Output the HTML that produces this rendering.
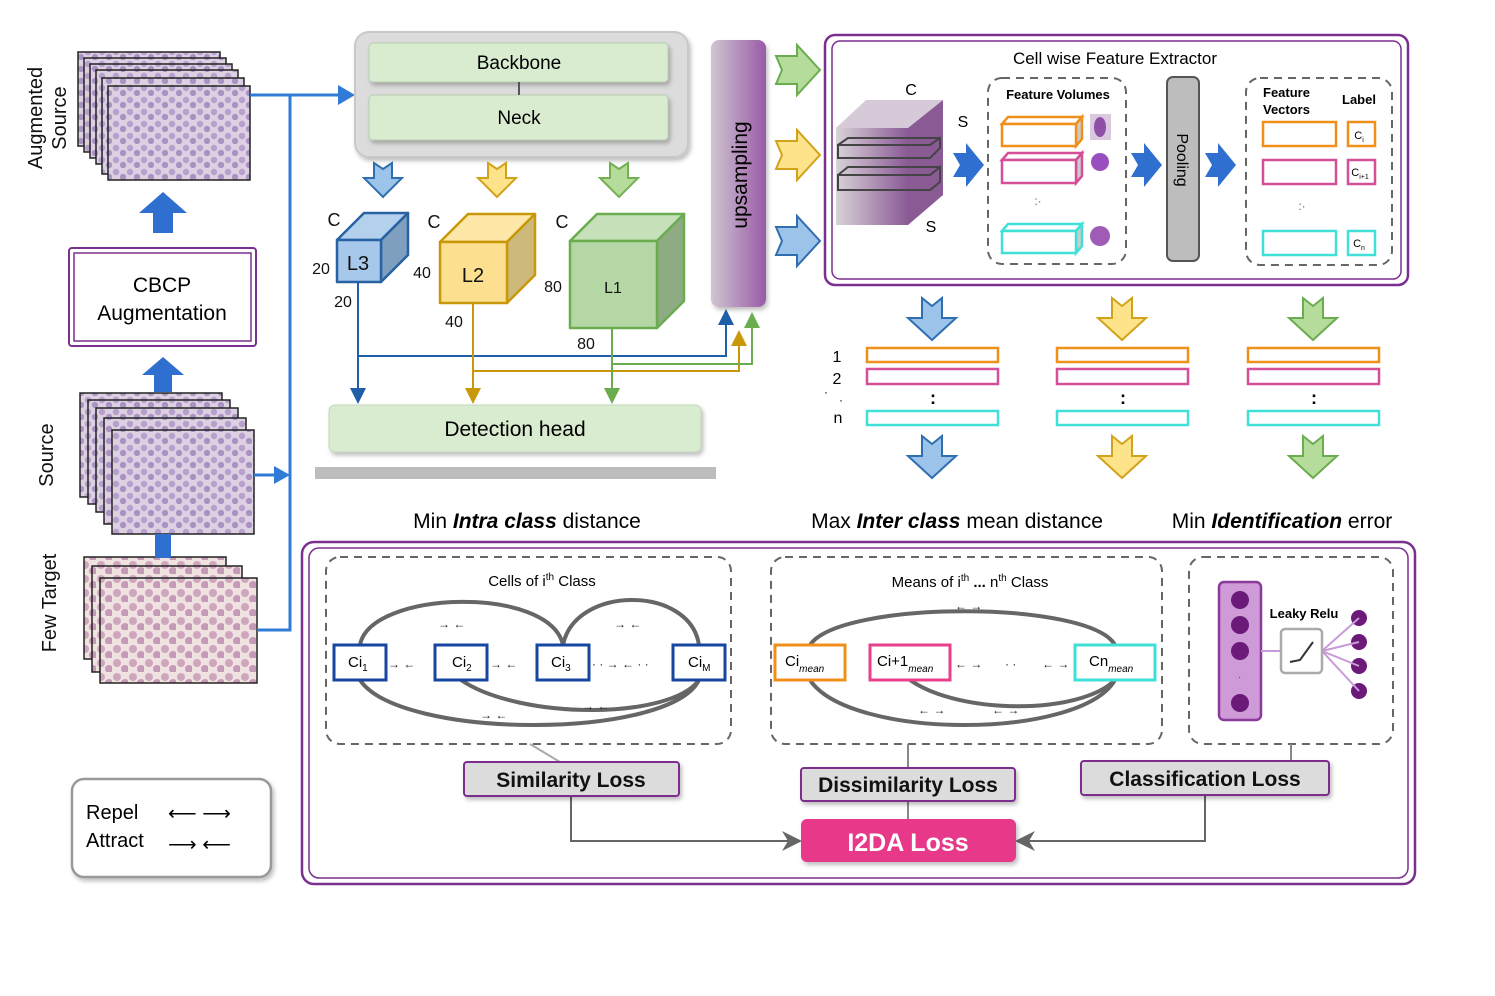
<!DOCTYPE html>
<html><head><meta charset="utf-8"><style>
html,body{margin:0;padding:0;background:#fff;}
svg{display:block;font-family:"Liberation Sans",sans-serif;}
</style></head><body>
<svg width="1495" height="996" viewBox="0 0 1495 996" xmlns="http://www.w3.org/2000/svg">
<defs>
<pattern id="cells" width="14" height="12" patternUnits="userSpaceOnUse">
<rect width="14" height="12" fill="#ddd0e3"/>
<circle cx="4" cy="4" r="3.2" fill="#b7a0cc"/><circle cx="11" cy="9" r="3.2" fill="#a993c2"/>
</pattern>
<pattern id="cells2" width="16" height="14" patternUnits="userSpaceOnUse">
<rect width="16" height="14" fill="#efe2e0"/>
<circle cx="5" cy="5" r="4" fill="#cfa6bd"/><circle cx="13" cy="11" r="4" fill="#c59ab6"/>
</pattern>
<linearGradient id="up" x1="0" x2="1"><stop offset="0" stop-color="#cfc6cf"/><stop offset="1" stop-color="#9a5aa8"/></linearGradient>
<linearGradient id="cube" x1="0" x2="1"><stop offset="0" stop-color="#d8d2d8"/><stop offset="1" stop-color="#8a5a95"/></linearGradient>
<marker id="ab" markerWidth="8" markerHeight="8" refX="6" refY="4" orient="auto"><path d="M0,0 L8,4 L0,8z" fill="#1f5fa8"/></marker>
<marker id="ay" markerWidth="8" markerHeight="8" refX="6" refY="4" orient="auto"><path d="M0,0 L8,4 L0,8z" fill="#c9980a"/></marker>
<marker id="ag" markerWidth="8" markerHeight="8" refX="6" refY="4" orient="auto"><path d="M0,0 L8,4 L0,8z" fill="#6aad4f"/></marker>
<marker id="agr" markerWidth="10" markerHeight="10" refX="8" refY="5" orient="auto"><path d="M0,0 L10,5 L0,10 L3,5z" fill="#666"/></marker>
<marker id="abl" markerWidth="5" markerHeight="5" refX="4" refY="2.5" orient="auto"><path d="M0,0 L5,2.5 L0,5z" fill="#2f7bd6"/></marker>
<filter id="sh" x="-10%" y="-10%" width="130%" height="140%"><feDropShadow dx="2" dy="3" stdDeviation="2" flood-color="#000" flood-opacity="0.25"/></filter>
</defs>

<!-- left image stacks -->
<g stroke="#222" stroke-width="1.5">
<rect x="78" y="52" width="142" height="94" fill="url(#cells)"/>
<rect x="84" y="58" width="142" height="94" fill="url(#cells)"/>
<rect x="90" y="64" width="142" height="94" fill="url(#cells)"/>
<rect x="96" y="70" width="142" height="94" fill="url(#cells)"/>
<rect x="102" y="78" width="142" height="96" fill="url(#cells)"/>
<rect x="108" y="86" width="142" height="94" fill="url(#cells)"/>
<rect x="80" y="393" width="142" height="104" fill="url(#cells)"/>
<rect x="88" y="400" width="142" height="104" fill="url(#cells)"/>
<rect x="96" y="408" width="142" height="104" fill="url(#cells)"/>
<rect x="104" y="418" width="142" height="106" fill="url(#cells)"/>
<rect x="112" y="430" width="142" height="104" fill="url(#cells)"/>
<rect x="84" y="557" width="142" height="102" fill="url(#cells2)"/>
<rect x="92" y="566" width="150" height="106" fill="url(#cells2)"/>
<rect x="100" y="578" width="157" height="105" fill="url(#cells2)"/>
</g>
<g font-size="20" fill="#111" text-anchor="middle">
<text transform="translate(42,118) rotate(-90)">Augmented</text>
<text transform="translate(66,118) rotate(-90)">Source</text>
<text transform="translate(53,455) rotate(-90)">Source</text>
<text transform="translate(56,603) rotate(-90)">Few Target</text>
</g>
<!-- up arrows -->
<path d="M163,192 L187,213 L173,213 L173,233 L153,233 L153,213 L139,213z" fill="#2f6fd0"/>
<path d="M163,357 L184,375 L172,375 L172,392 L154,392 L154,375 L142,375z" fill="#2f6fd0"/>
<rect x="155" y="534" width="16" height="24" fill="#2f6fd0"/>
<!-- CBCP -->
<rect x="69" y="248" width="187" height="98" rx="3" fill="#fff" stroke="#7b2f8f" stroke-width="2"/>
<rect x="74" y="253" width="177" height="88" fill="none" stroke="#7b2f8f" stroke-width="1.5"/>
<text x="162" y="292" font-size="21" text-anchor="middle">CBCP</text>
<text x="162" y="320" font-size="21" text-anchor="middle">Augmentation</text>
<!-- blue connectors -->
<g stroke="#2f7bd6" stroke-width="3" fill="none">
<path d="M250,95 L340,95"/>
<path d="M290,95 L290,630 L257,630"/>
<path d="M254,475 L276,475"/>
</g>
<path d="M338,85 L355,95 L338,105z" fill="#2f7bd6"/>
<path d="M274,466 L290,475 L274,484z" fill="#2f7bd6"/>

<!-- backbone -->
<rect x="355" y="32" width="333" height="125" rx="14" fill="#dcdcdc" stroke="#c8c8c8" stroke-width="2" filter="url(#sh)"/>
<rect x="369" y="43" width="299" height="39" rx="4" fill="#d9ecd0" stroke="#b9cfb0" filter="url(#sh)"/>
<rect x="369" y="95" width="299" height="45" rx="4" fill="#d9ecd0" stroke="#b9cfb0" filter="url(#sh)"/>
<text x="519" y="69" font-size="19" text-anchor="middle">Backbone</text>
<text x="519" y="124" font-size="19" text-anchor="middle">Neck</text>
<line x1="519" y1="82" x2="519" y2="95" stroke="#555" stroke-width="2"/>
<!-- down chevron arrows -->
<g stroke-width="2" stroke-linejoin="miter">
<path d="M374,163 L383,169 L392,163 L392,178 L402,178 L383,197 L364,178 L374,178z" fill="#9cc3ea" stroke="#2f6fb0"/>
<path d="M488,163 L497,169 L506,163 L506,178 L516,178 L497,197 L478,178 L488,178z" fill="#fde38a" stroke="#d2a21a"/>
<path d="M610,163 L619,169 L628,163 L628,178 L638,178 L619,197 L600,178 L610,178z" fill="#b6dc9c" stroke="#74b052"/>
</g>
<!-- cubes -->
<g stroke-width="2.5" stroke-linejoin="round">
<path d="M337,240 L364,213 L408,213 L381,240z" fill="#b3d0ec" stroke="#2862a3"/>
<path d="M381,240 L408,213 L408,255 L381,282z" fill="#7e9fbe" stroke="#2862a3"/>
<rect x="337" y="240" width="44" height="42" fill="#a7c8ea" stroke="#2862a3"/>
<path d="M440,242 L468,214 L535,214 L507,242z" fill="#fde7a6" stroke="#c9980a"/>
<path d="M507,242 L535,214 L535,275 L507,303z" fill="#cdb97a" stroke="#c9980a"/>
<rect x="440" y="242" width="67" height="61" fill="#fde08f" stroke="#c9980a"/>
<path d="M570,241 L597,214 L684,214 L657,241z" fill="#c6e0ba" stroke="#6aad4f"/>
<path d="M657,241 L684,214 L684,301 L657,328z" fill="#8fab83" stroke="#6aad4f"/>
<rect x="570" y="241" width="87" height="87" fill="#b5d7a6" stroke="#6aad4f"/>
</g>
<g font-size="18" fill="#111" text-anchor="middle">
<text x="358" y="270" font-size="20">L3</text>
<text x="473" y="282" font-size="20">L2</text>
<text x="613" y="293" font-size="16">L1</text>
<text x="334" y="226">C</text><text x="434" y="228">C</text><text x="562" y="228">C</text>
<text x="321" y="274" font-size="16">20</text><text x="343" y="307" font-size="16">20</text>
<text x="422" y="278" font-size="16">40</text><text x="454" y="327" font-size="16">40</text>
<text x="553" y="292" font-size="16">80</text><text x="586" y="349" font-size="16">80</text>
</g>
<!-- feature lines -->
<g fill="none" stroke-width="2">
<path d="M358,282 L358,400" stroke="#1f5fa8" marker-end="url(#ab)"/>
<path d="M358,356 L726,356 L726,313" stroke="#1f5fa8" marker-end="url(#ab)"/>
<path d="M473,303 L473,400" stroke="#c9980a" marker-end="url(#ay)"/>
<path d="M473,371 L739,371 L739,334" stroke="#c9980a" marker-end="url(#ay)"/>
<path d="M612,328 L612,400" stroke="#6aad4f" marker-end="url(#ag)"/>
<path d="M612,364 L752,364 L752,316" stroke="#6aad4f" marker-end="url(#ag)"/>
</g>
<!-- detection head -->
<rect x="329" y="405" width="372" height="47" rx="6" fill="#d9ecd0" stroke="#c4d8bb" filter="url(#sh)"/>
<text x="515" y="436" font-size="21" text-anchor="middle">Detection head</text>
<rect x="315" y="467" width="401" height="12" fill="#bdbdbd"/>
<!-- upsampling -->
<rect x="711" y="40" width="55" height="267" rx="8" fill="url(#up)" filter="url(#sh)"/>
<text transform="translate(747,175) rotate(-90)" font-size="21" text-anchor="middle">upsampling</text>
<!-- right arrows -->
<g stroke-width="2">
<path d="M776,56 L782,70 L776,84 L797,84 L797,95 L820,70 L797,45 L797,56z" fill="#b6dc9c" stroke="#6aad4f"/>
<path d="M776,141 L782,155 L776,169 L797,169 L797,180 L820,155 L797,130 L797,141z" fill="#fde38a" stroke="#d2a21a"/>
<path d="M776,227 L782,241 L776,255 L797,255 L797,266 L820,241 L797,216 L797,227z" fill="#9cc3ea" stroke="#2f6fb0"/>
</g>

<!-- cell wise feature extractor -->
<rect x="825" y="35" width="583" height="250" rx="10" fill="#fff" stroke="#7b2f8f" stroke-width="2.5"/>
<rect x="832" y="41" width="569" height="238" rx="8" fill="#fff" stroke="#7b2f8f" stroke-width="1.5"/>
<text x="1115" y="64" font-size="17" text-anchor="middle">Cell wise Feature Extractor</text>
<path d="M836,128 L866,100 L943,100 L908,128z" fill="#d6c9d8"/>
<path d="M908,128 L943,100 L943,195 L908,225z" fill="#8a5a95"/>
<rect x="836" y="128" width="72" height="97" fill="url(#cube)"/>
<g fill="none" stroke="#444" stroke-width="2">
<path d="M838,155 L838,145 L930,145 L940,138 L940,148 L930,158 L838,158z"/>
<path d="M838,145 L848,138 L940,138"/>
<path d="M838,190 L838,175 L930,175 L940,167 L940,182 L930,190z"/>
<path d="M838,175 L848,167 L940,167"/>
</g>
<text x="911" y="95" font-size="16" text-anchor="middle">C</text>
<text x="963" y="127" font-size="16" text-anchor="middle">S</text>
<text x="931" y="232" font-size="16" text-anchor="middle">S</text>
<g fill="#2f6fd0">
<path d="M953,153 L966,153 L966,143 L984,165 L966,187 L966,177 L953,177 L960,165z"/>
<path d="M1131,153 L1144,153 L1144,143 L1162,165 L1144,187 L1144,177 L1131,177 L1138,165z"/>
<path d="M1205,153 L1218,153 L1218,143 L1236,165 L1218,187 L1218,177 L1205,177 L1212,165z"/>
</g>
<rect x="988" y="78" width="138" height="186" rx="14" fill="none" stroke="#666" stroke-width="2" stroke-dasharray="8,6"/>
<text x="1058" y="99" font-size="13" font-weight="bold" text-anchor="middle">Feature Volumes</text>
<g stroke-width="2.5">
<path d="M1002,124 L1008,117 L1082,117 L1076,124z" fill="#fff" stroke="#f0901a"/><path d="M1076,124 L1082,117 L1082,139 L1076,146z" fill="#ccc" stroke="#f0901a"/><rect x="1002" y="124" width="74" height="22" fill="#fff" stroke="#f0901a"/>
<path d="M1002,160 L1008,153 L1082,153 L1076,160z" fill="#fff" stroke="#d44f98"/><path d="M1076,160 L1082,153 L1082,176 L1076,183z" fill="#ccc" stroke="#d44f98"/><rect x="1002" y="160" width="74" height="23" fill="#fff" stroke="#d44f98"/>
<path d="M1002,231 L1008,224 L1082,224 L1076,231z" fill="#fff" stroke="#3fe0d8"/><path d="M1076,231 L1082,224 L1082,246 L1076,253z" fill="#ccc" stroke="#3fe0d8"/><rect x="1002" y="231" width="74" height="22" fill="#fff" stroke="#3fe0d8"/>
</g>
<rect x="1090" y="114" width="21" height="26" fill="#d9c8de"/><ellipse cx="1100" cy="127" rx="6" ry="10" fill="#8d4fa8"/>
<circle cx="1100" cy="162" r="9" fill="#9a4fc0"/>
<circle cx="1100" cy="236" r="10" fill="#9f5bb6"/>
<text x="1038" y="205" font-size="12" text-anchor="middle" fill="#666">:·</text>
<rect x="1167" y="77" width="32" height="184" rx="6" fill="#bdbdbd" stroke="#555" stroke-width="2"/>
<text transform="translate(1177,160) rotate(90)" font-size="16" text-anchor="middle">Pooling</text>
<rect x="1246" y="78" width="146" height="187" rx="14" fill="none" stroke="#666" stroke-width="2" stroke-dasharray="8,6"/>
<text x="1263" y="97" font-size="13" font-weight="bold">Feature</text>
<text x="1263" y="114" font-size="13" font-weight="bold">Vectors</text>
<text x="1342" y="104" font-size="13" font-weight="bold">Label</text>
<g stroke-width="2.5" fill="#fff">
<rect x="1263" y="122" width="73" height="24" stroke="#f0901a"/><rect x="1348" y="122" width="27" height="24" stroke="#f0901a"/>
<rect x="1263" y="160" width="73" height="24" stroke="#d44f98"/><rect x="1348" y="160" width="27" height="24" stroke="#d44f98"/>
<rect x="1263" y="231" width="73" height="24" stroke="#3fe0d8"/><rect x="1348" y="231" width="27" height="24" stroke="#3fe0d8"/>
</g>
<g font-size="11" text-anchor="middle"><text x="1359" y="139">C<tspan font-size="7" dy="3">i</tspan></text><text x="1360" y="176">C<tspan font-size="7" dy="3">i+1</tspan></text><text x="1359" y="247">C<tspan font-size="7" dy="3">n</tspan></text></g>
<text x="1302" y="210" font-size="12" text-anchor="middle" fill="#666">:·</text>

<!-- middle columns -->
<g font-size="16" text-anchor="middle"><text x="837" y="362">1</text><text x="837" y="384">2</text><text x="826" y="396" font-size="12">·</text><text x="841" y="404" font-size="12">·</text><text x="838" y="423">n</text></g>
<g stroke-width="2">
<path d="M922,298 L932,306 L942,298 L942,318 L956,318 L932,340 L908,318 L922,318z" fill="#9cc3ea" stroke="#2f6fb0"/>
<path d="M922,436 L932,444 L942,436 L942,456 L956,456 L932,478 L908,456 L922,456z" fill="#9cc3ea" stroke="#2f6fb0"/>
<path d="M1112,298 L1122,306 L1132,298 L1132,318 L1146,318 L1122,340 L1098,318 L1112,318z" fill="#fde38a" stroke="#d2a21a"/>
<path d="M1112,436 L1122,444 L1132,436 L1132,456 L1146,456 L1122,478 L1098,456 L1112,456z" fill="#fde38a" stroke="#d2a21a"/>
<path d="M1303,298 L1313,306 L1323,298 L1323,318 L1337,318 L1313,340 L1289,318 L1303,318z" fill="#b6dc9c" stroke="#6aad4f"/>
<path d="M1303,436 L1313,444 L1323,436 L1323,456 L1337,456 L1313,478 L1289,456 L1303,456z" fill="#b6dc9c" stroke="#6aad4f"/>
</g>
<g stroke-width="2.5" fill="#fff">
<rect x="867" y="348" width="131" height="14" stroke="#f0901a"/><rect x="867" y="369" width="131" height="15" stroke="#d44f98"/><rect x="867" y="411" width="131" height="14" stroke="#3fe0d8"/>
<rect x="1057" y="348" width="131" height="14" stroke="#f0901a"/><rect x="1057" y="369" width="131" height="15" stroke="#d44f98"/><rect x="1057" y="411" width="131" height="14" stroke="#3fe0d8"/>
<rect x="1248" y="348" width="131" height="14" stroke="#f0901a"/><rect x="1248" y="369" width="131" height="15" stroke="#d44f98"/><rect x="1248" y="411" width="131" height="14" stroke="#3fe0d8"/>
</g>
<g font-size="18" font-weight="bold" text-anchor="middle"><text x="933" y="404">:</text><text x="1123" y="404">:</text><text x="1314" y="404">:</text></g>

<g font-size="21" text-anchor="middle">
<text x="527" y="528">Min <tspan font-weight="bold" font-style="italic">Intra class</tspan> distance</text>
<text x="957" y="528">Max <tspan font-weight="bold" font-style="italic">Inter class</tspan> mean distance</text>
<text x="1282" y="528">Min <tspan font-weight="bold" font-style="italic">Identification</tspan> error</text>
</g>

<!-- bottom box -->
<rect x="302" y="542" width="1113" height="342" rx="12" fill="#fff" stroke="#7b2f8f" stroke-width="2.5"/>
<rect x="309" y="548" width="1099" height="330" rx="10" fill="#fff" stroke="#7b2f8f" stroke-width="1.5"/>
<g fill="none" stroke="#666" stroke-width="2" stroke-dasharray="8,6">
<rect x="326" y="557" width="405" height="187" rx="14"/>
<rect x="771" y="557" width="391" height="187" rx="14"/>
<rect x="1189" y="557" width="204" height="187" rx="14"/>
</g>
<text x="542" y="586" font-size="15" text-anchor="middle">Cells of i<tspan font-size="10" dy="-6">th</tspan><tspan dy="6"> Class</tspan></text>
<text x="970" y="587" font-size="15" text-anchor="middle">Means of i<tspan font-size="10" dy="-6">th</tspan><tspan dy="6" font-weight="bold">   ...  </tspan>n<tspan font-size="10" dy="-6">th</tspan><tspan dy="6"> Class</tspan></text>
<g fill="none" stroke="#666" stroke-width="4">
<path d="M360,645 C370,590 550,585 563,645"/>
<path d="M563,645 C575,585 690,585 699,645"/>
<path d="M360,680 C400,740 670,740 699,680"/>
<path d="M461,680 C520,720 670,720 699,680"/>
<path d="M810,645 C840,600 1090,600 1115,645"/>
<path d="M810,680 C850,740 1080,740 1115,680"/>
<path d="M910,680 C960,715 1080,715 1115,680"/>
</g>
<g stroke-width="3" fill="#fff">
<rect x="334" y="645" width="52" height="35" stroke="#1646a0"/>
<rect x="435" y="645" width="52" height="35" stroke="#1646a0"/>
<rect x="537" y="645" width="52" height="35" stroke="#1646a0"/>
<rect x="673" y="645" width="52" height="35" stroke="#1646a0"/>
<rect x="775" y="645" width="70" height="35" stroke="#f0901a"/>
<rect x="870" y="645" width="80" height="35" stroke="#e8418c"/>
<rect x="1075" y="645" width="80" height="35" stroke="#3fe0d8"/>
</g>
<g font-size="15">
<text x="348" y="667">Ci<tspan font-size="10" dy="4">1</tspan></text>
<text x="452" y="667">Ci<tspan font-size="10" dy="4">2</tspan></text>
<text x="551" y="667">Ci<tspan font-size="10" dy="4">3</tspan></text>
<text x="688" y="667">Ci<tspan font-size="10" dy="4">M</tspan></text>
<text x="785" y="666">Ci<tspan font-size="10" dy="6" font-style="italic">mean</tspan></text>
<text x="877" y="666">Ci+1<tspan font-size="10" dy="6" font-style="italic">mean</tspan></text>
<text x="1089" y="666">Cn<tspan font-size="10" dy="6" font-style="italic">mean</tspan></text>
</g>
<g font-size="12" fill="#222">
<text x="388" y="668">→ ←</text><text x="490" y="668">→ ←</text><text x="592" y="668">· · →  ← · ·</text>
<text x="438" y="628">→ ←</text><text x="614" y="628">→ ←</text>
<text x="480" y="719">→ ←</text><text x="582" y="710">→ ←</text>
<text x="955" y="610">← →</text><text x="955" y="668">← →</text><text x="1005" y="668">· ·</text><text x="1042" y="668">← →</text>
<text x="918" y="714">← →</text><text x="992" y="714">← →</text>
</g>
<!-- classification -->
<rect x="1219" y="582" width="42" height="138" rx="5" fill="#cf9ad8" stroke="#8a3a9a" stroke-width="2.5"/>
<g fill="#6b1a7a"><circle cx="1240" cy="600" r="9"/><circle cx="1240" cy="625" r="9"/><circle cx="1240" cy="651" r="9"/><circle cx="1240" cy="703" r="9"/>
<circle cx="1359" cy="618" r="8"/><circle cx="1359" cy="642" r="8"/><circle cx="1359" cy="666" r="8"/><circle cx="1359" cy="691" r="8"/></g>
<text x="1238" y="680" font-size="10" fill="#6b1a7a">·</text>
<g stroke="#c89ad8" stroke-width="2"><line x1="1261" y1="651" x2="1281" y2="651"/><line x1="1322" y1="651" x2="1359" y2="618"/><line x1="1322" y1="651" x2="1359" y2="642"/><line x1="1322" y1="651" x2="1359" y2="666"/><line x1="1322" y1="651" x2="1359" y2="691"/></g>
<rect x="1281" y="629" width="41" height="44" rx="4" fill="#fff" stroke="#aaa" stroke-width="2.5"/>
<path d="M1290,662 L1300,660 L1313,642" fill="none" stroke="#333" stroke-width="2"/>
<text x="1304" y="618" font-size="13" font-weight="bold" text-anchor="middle">Leaky Relu</text>
<!-- losses -->
<g stroke="#888" stroke-width="2" fill="none">
<line x1="530" y1="744" x2="560" y2="762" stroke="#aaa"/>
<line x1="908" y1="744" x2="908" y2="768"/>
<line x1="908" y1="801" x2="908" y2="819"/>
<line x1="1291" y1="744" x2="1291" y2="761"/>
<path d="M571,796 L571,841 L798,841" stroke="#666" marker-end="url(#agr)"/>
<path d="M1205,795 L1205,841 L1019,841" stroke="#666" marker-end="url(#agr)"/>
</g>
<g stroke="#7b2f8f" stroke-width="2" fill="#dcdcdc" filter="url(#sh)">
<rect x="464" y="762" width="215" height="34" rx="3"/>
<rect x="801" y="768" width="214" height="33" rx="3"/>
<rect x="1081" y="761" width="248" height="34" rx="3"/>
</g>
<rect x="801" y="819" width="215" height="43" rx="6" fill="#e8388a" filter="url(#sh)"/>
<g font-size="21" font-weight="bold" text-anchor="middle" fill="#111">
<text x="571" y="787">Similarity Loss</text>
<text x="908" y="792">Dissimilarity Loss</text>
<text x="1205" y="786">Classification Loss</text>
<text x="908" y="851" fill="#fff" font-size="25">I2DA  Loss</text>
</g>
<!-- legend -->
<rect x="72" y="779" width="199" height="98" rx="12" fill="#fff" stroke="#999" stroke-width="2.5" filter="url(#sh)"/>
<text x="86" y="819" font-size="20">Repel</text>
<text x="86" y="847" font-size="20">Attract</text>
<g font-size="20"><text x="168" y="820">⟵ ⟶</text><text x="168" y="851">⟶ ⟵</text></g>
</svg>
</body></html>
